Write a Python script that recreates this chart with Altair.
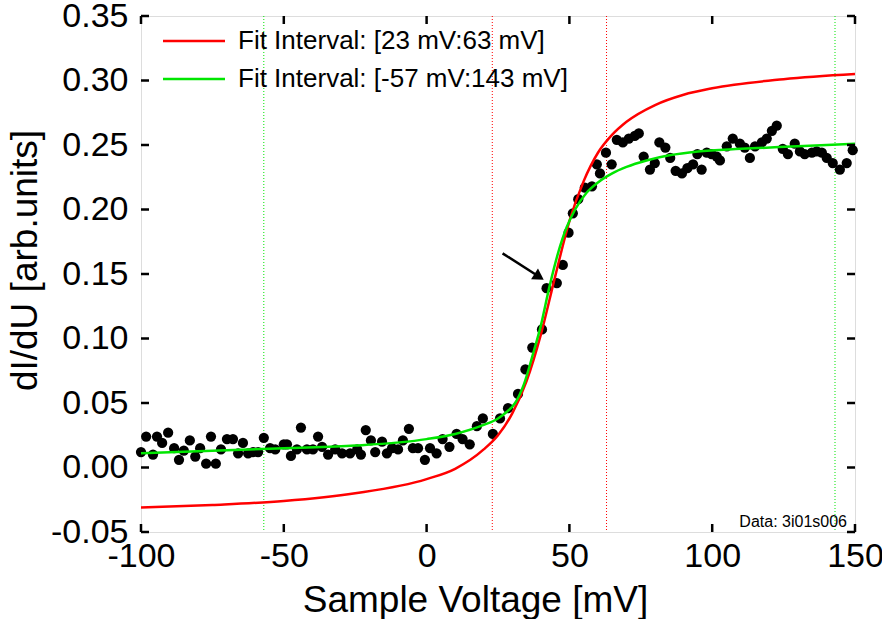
import altair as alt
import pandas as pd

W, H = 714, 516

# measured data points (Sample Voltage [mV], dI/dU)
volt = [-100, -98.2, -95.8, -94.4, -92.6, -90.5, -88.4, -86.7, -85, -82.9, -81, -79.3, -77.2, -75.5,
        -73.8, -72, -69.9, -67.8, -66, -64.3, -62.5, -60.8, -59, -57, -54.8, -53, -50,
        -48.9, -47.5, -45.4, -44, -41.9, -39.8, -38, -36.6, -34.5, -32, -29.6, -26.8, -24.3, -23,
        -21.3, -19.5, -18, -15.6, -13.9, -12.1, -10, -8.3, -6.2, -4.8, -3, -0.6, 1.2,
        3.5, 5.6, 8, 10.5, 12.6, 15.1, 17.6, 19.7, 23.2, 25.7, 28.5, 32, 34.6, 37, 40.4, 42,
        45.6, 47.7, 49.7, 51.2, 53.1, 55.4, 57.9, 59.6, 60.7, 62.8, 64.8, 66.6, 68.7, 70.8,
        72.9, 74.3, 76, 78.2, 79.9, 81.5, 83.6, 85.3, 87.2, 89.4, 91.3, 93.3, 94.8, 96.3, 98.1,
        99.8, 101.6, 102.7, 105.1, 107.2, 109.7, 111.4, 113.2, 115, 117.4, 119.1, 120.9, 122.6,
        124.7, 126.5, 128.9, 130.7, 132.4, 134.9, 136.6, 138.4, 140.1, 142.2, 144.7, 147.1, 149.2]
didu = [0.012, 0.024, 0.010, 0.024, 0.019, 0.027, 0.015, 0.006, 0.013, 0.021, 0.0085, 0.015, 0.003, 0.024,
        0.003, 0.014, 0.022, 0.022, 0.011, 0.019, 0.011, 0.012, 0.012, 0.023, 0.015, 0.014, 0.018,
        0.018, 0.009, 0.014, 0.031, 0.014, 0.014, 0.024, 0.016, 0.010, 0.014, 0.011, 0.011, 0.014, 0.010,
        0.029, 0.021, 0.012, 0.020, 0.011, 0.015, 0.014, 0.021, 0.030, 0.015, 0.015, 0.006, 0.015,
        0.011, 0.022, 0.016, 0.026, 0.022, 0.018, 0.032, 0.038, 0.026, 0.038, 0.046, 0.057, 0.076, 0.093, 0.107, 0.139,
        0.143, 0.157, 0.182, 0.197, 0.208, 0.217, 0.218, 0.235, 0.228, 0.244, 0.235, 0.254, 0.252, 0.255,
        0.257, 0.259, 0.241, 0.231, 0.236, 0.252, 0.248, 0.240, 0.230, 0.228, 0.232, 0.235, 0.243, 0.231, 0.244,
        0.243, 0.241, 0.238, 0.249, 0.255, 0.251, 0.248, 0.240, 0.249, 0.252, 0.255, 0.261, 0.265,
        0.247, 0.243, 0.251, 0.245, 0.243, 0.244, 0.245, 0.244, 0.240, 0.236, 0.231, 0.236, 0.246]

# fit curves
red_x = [-100, -75, -50, -25, 0, 10, 20, 25, 30, 35, 40, 45, 50, 55, 60, 65, 70, 80, 90, 100, 125, 150]
red_y = [-0.031, -0.029, -0.026, -0.020, -0.009, -0.001, 0.014, 0.025, 0.042, 0.067, 0.103, 0.148,
         0.191, 0.222, 0.244, 0.258, 0.268, 0.281, 0.289, 0.294, 0.301, 0.305]
green_x = [-100, -75, -50, -25, 0, 10, 20, 25, 28, 31, 34, 37, 40, 43, 46, 49, 52, 56, 60, 65, 70, 77,
           85, 95, 110, 130, 150]
green_y = [0.011, 0.013, 0.015, 0.017, 0.022, 0.026, 0.033, 0.038, 0.043, 0.050, 0.064, 0.086, 0.110,
           0.140, 0.166, 0.186, 0.200, 0.213, 0.221, 0.228, 0.233, 0.238, 0.242, 0.245, 0.247, 0.249, 0.251]

legend_labels = ["Fit Interval: [23 mV:63 mV]", "Fit Interval: [-57 mV:143 mV]"]
legend_colors = ["#ff0000", "#00e600"]
interval_x = [23, 63, -57, 143]
interval_colors = ["#ff0000", "#ff0000", "#00e600", "#00e600"]

x_ticks = [-100, -50, 0, 50, 100, 150]
y_ticks = [-0.05, 0.0, 0.05, 0.10, 0.15, 0.20, 0.25, 0.30, 0.35]

arrow_x = [26.6, 38.6]
arrow_y = [0.166, 0.149]
arrow_head_x = [39.4]
arrow_head_y = [0.1478]

FONT = "Liberation Sans"

xs = alt.Scale(domain=[-100, 150], nice=False, zero=False)
ys = alt.Scale(domain=[-0.05, 0.35], nice=False, zero=False)

pts = pd.DataFrame({"x": volt, "y": didu})
red = pd.DataFrame({"x": red_x, "y": red_y})
green = pd.DataFrame({"x": green_x, "y": green_y})
ivl = pd.DataFrame({"x": interval_x, "c": interval_colors})
xt = pd.DataFrame({"x": x_ticks})
yt = pd.DataFrame({"y": y_ticks})

base_x = alt.X("x:Q", scale=xs,
               axis=alt.Axis(values=x_ticks, title="Sample Voltage [mV]", ticks=False, domain=False,
                             grid=False, labelFontSize=34, labelPadding=7, labelFont=FONT,
                             labelFlush=False, labelOverlap=False,
                             titleFont=FONT, titleFontSize=37, titleFontWeight="normal",
                             titleColor="black", labelColor="black",
                             titleX=334, titleY=79, titleBaseline="alphabetic", titleAlign="center"))
base_y = alt.Y("y:Q", scale=ys,
               axis=alt.Axis(values=y_ticks, format=".2f", title="dI/dU [arb.units]", ticks=False,
                             domain=False, grid=False, labelFontSize=34, labelPadding=13,
                             labelFlush=False, labelOverlap=False,
                             labelFont=FONT, titleFont=FONT, titleFontSize=37,
                             titleFontWeight="normal", titleColor="black", labelColor="black",
                             titleX=-105, titleY=244, titleAngle=270, titleBaseline="alphabetic",
                             titleAlign="center"))

vlines = alt.Chart(ivl).mark_rule(strokeDash=[1, 2], strokeWidth=1).encode(
    x=alt.X("x:Q", scale=xs), color=alt.Color("c:N", scale=None))

points = alt.Chart(pts).mark_circle(size=105, color="black", opacity=1).encode(x=base_x, y=base_y)

red_line = alt.Chart(red).mark_line(color="#ff0000", strokeWidth=2.5, interpolate="monotone").encode(
    x=alt.X("x:Q", scale=xs), y=alt.Y("y:Q", scale=ys))
green_line = alt.Chart(green).mark_line(color="#00e600", strokeWidth=2.5, interpolate="monotone").encode(
    x=alt.X("x:Q", scale=xs), y=alt.Y("y:Q", scale=ys))

arrow_line = alt.Chart(pd.DataFrame({"x": [arrow_x[0]], "y": [arrow_y[0]],
                                     "x2": [arrow_x[1]], "y2": [arrow_y[1]]})).mark_rule(
    color="black", strokeWidth=2.5).encode(
    x=alt.X("x:Q", scale=xs), y=alt.Y("y:Q", scale=ys), x2="x2:Q", y2="y2:Q")
arrow_head = alt.Chart(pd.DataFrame({"x": arrow_head_x, "y": arrow_head_y})).mark_point(
    shape="triangle-right", filled=True, color="black", size=160, angle=33, opacity=1).encode(
    x=alt.X("x:Q", scale=xs), y=alt.Y("y:Q", scale=ys))

tick_style = dict(color="black", strokeWidth=2.5)
ticks_left = alt.Chart(yt).mark_rule(**tick_style).encode(
    y=alt.Y("y:Q", scale=ys), x=alt.value(0), x2=alt.value(8))
ticks_right = alt.Chart(yt).mark_rule(**tick_style).encode(
    y=alt.Y("y:Q", scale=ys), x=alt.value(W - 8), x2=alt.value(W))
ticks_bottom = alt.Chart(xt).mark_rule(**tick_style).encode(
    x=alt.X("x:Q", scale=xs), y=alt.value(H - 8), y2=alt.value(H))
ticks_top = alt.Chart(xt).mark_rule(**tick_style).encode(
    x=alt.X("x:Q", scale=xs), y=alt.value(0), y2=alt.value(8))

legend_layers = []
for i, (lab, col) in enumerate(zip(legend_labels, legend_colors)):
    yy = 25 + 38 * i
    dfl = pd.DataFrame({"label": [lab]})
    legend_layers.append(alt.Chart(dfl).mark_rule(color=col, strokeWidth=2.5).encode(
        x=alt.value(22), x2=alt.value(84), y=alt.value(yy)))
    legend_layers.append(alt.Chart(dfl).mark_text(
        align="left", baseline="middle", font=FONT, fontSize=26, color="black").encode(
        x=alt.value(97), y=alt.value(yy), text="label:N"))

data_note = alt.Chart(pd.DataFrame({"t": ["Data: 3i01s006"]})).mark_text(
    align="right", baseline="alphabetic", font=FONT, fontSize=16, color="black").encode(
    x=alt.value(W - 8), y=alt.value(H - 5), text="t:N")

chart = alt.layer(
    vlines, points, red_line, green_line, arrow_line, arrow_head,
    ticks_left, ticks_right, ticks_bottom, ticks_top, *legend_layers, data_note
).properties(
    width=W, height=H,
    padding={"left": 141, "top": 16, "right": 27, "bottom": 87},
    autosize=alt.AutoSizeParams(type="none"),
    background="white",
).configure_view(
    stroke="black", strokeWidth=2.5
).configure(
    locale={"number": {"decimal": ".", "thousands": ",", "grouping": [3],
                       "currency": ["$", ""], "minus": "-"}}
)

chart.save("out.html", embed_options={"renderer": "svg", "actions": False})
